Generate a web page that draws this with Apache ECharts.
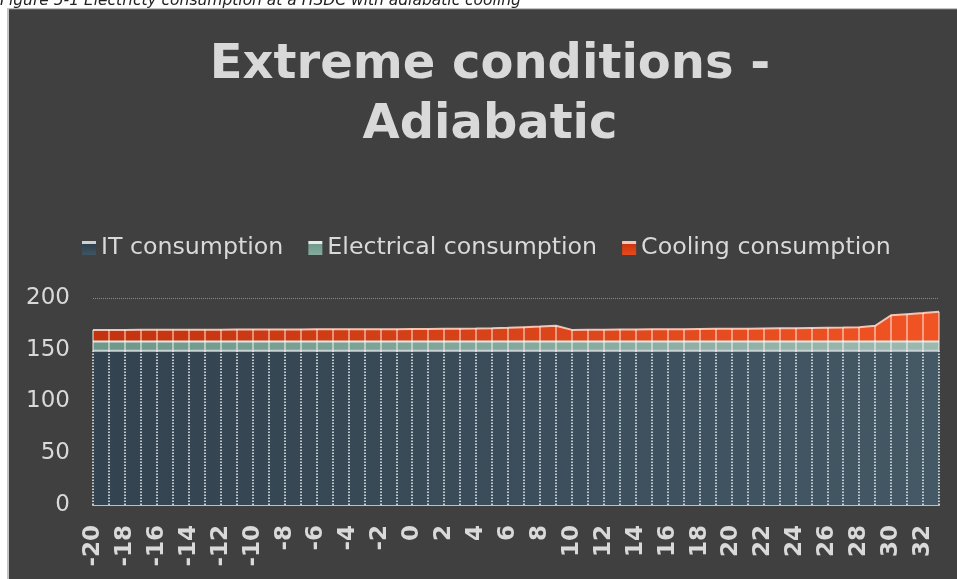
<!DOCTYPE html>
<html><head><meta charset="utf-8">
<script src="https://cdn.jsdelivr.net/npm/echarts@6/dist/echarts.min.js"></script>
<style>html,body{margin:0;padding:0;background:#fff}#c{width:957px;height:579px}</style>
</head><body><div id="c"></div>
<script>
const categories = ['-20','-19','-18','-17','-16','-15','-14','-13','-12','-11','-10','-9','-8','-7','-6','-5','-4','-3','-2','-1',
  '0','1','2','3','4','5','6','7','8','9','10','11','12','13','14','15','16','17','18','19',
  '20','21','22','23','24','25','26','27','28','29','30','31','32','33'];
const itConsumption = [149,149,149,149,149,149,149,149,149,149,149,149,149,149,149,149,149,149,149,149,
  149,149,149,149,149,149,149,149,149,149,149,149,149,149,149,149,149,149,149,149,
  149,149,149,149,149,149,149,149,149,149,149,149,149,149];
const electricalConsumption = [9,9,9,9,9,9,9,9,9,9,9,9,9,9,9,9,9,9,9,9,
  9,9,9,9,9,9,9,9,9,9,9,9,9,9,9,9,9,9,9,9,
  9,9,9,9,9,9,9,9,9,9,9,9,9,9];
const coolingConsumption = [11.2,11.2,11.2,11.3,11.3,11.3,11.4,11.4,11.4,11.5,11.5,11.5,11.6,11.6,11.7,11.7,11.8,11.8,11.9,11.9,
  12.0,12.1,12.2,12.3,12.5,12.8,13.2,13.8,14.4,15.1,
  11.2,11.3,11.4,11.5,11.6,11.7,11.8,11.9,12.1,12.2,12.3,12.4,12.6,12.7,12.8,13.0,13.2,13.4,13.8,15.1,
  25.3,26.4,27.4,28.7];
const seriesNames = ['IT consumption','Electrical consumption','Cooling consumption'];
const yMin = 0, yMax = 200, yInterval = 50;
const titleText = 'Extreme conditions -\nAdiabatic';
const captionText = 'Figure 5-1 Electricty consumption at a HSDC with adiabatic cooling';

const FONT = '"DejaVu Sans", Verdana, sans-serif';
const hGrad = (a, b) => new echarts.graphic.LinearGradient(0, 0, 1, 0, [{offset:0,color:a},{offset:1,color:b}]);
const vIcon = (top, a, b) => new echarts.graphic.LinearGradient(0, 0, 0, 1, [
  {offset:0,color:top},{offset:0.18,color:top},{offset:0.2,color:a},{offset:1,color:b}]);

const baseTop = itConsumption.map((v) => v);
const totals = itConsumption.map((v, i) => v + electricalConsumption[i] + coolingConsumption[i]);

const chart = echarts.init(document.getElementById('c'), null, {renderer:'canvas'});
chart.setOption({
  backgroundColor: '#404040',
  animation: false,
  textStyle: {fontFamily: FONT},
  title: {
    text: titleText, left: 485, top: 31, textAlign: 'center', padding: 5,
    textStyle: {color: '#d9d9d9', fontSize: 48, fontWeight: 'bold', lineHeight: 60, fontFamily: FONT}
  },
  legend: {
    left: 77, top: 231, itemWidth: 14, itemHeight: 14, itemGap: 25, icon: 'rect',
    itemStyle: {borderWidth: 0},
    textStyle: {color: '#d9d9d9', fontSize: 23.7, fontFamily: FONT},
    data: [
      {name: seriesNames[0], itemStyle: {color: vIcon('#c9d1d5', '#2f3f4c', '#3f5462')}},
      {name: seriesNames[1], itemStyle: {color: vIcon('#e3ece8', '#6f9a8b', '#86ab9e')}},
      {name: seriesNames[2], itemStyle: {color: vIcon('#f7c6b6', '#c9360f', '#e9491c')}}
    ]
  },
  grid: {left: 93, right: 18, top: 298, bottom: 74, containLabel: false},
  xAxis: {
    type: 'category', data: categories, boundaryGap: false,
    axisLine: {lineStyle: {color: '#bfbfbf', width: 2}},
    axisTick: {show: false},
    splitLine: {show: false},
    axisLabel: {interval: 1, rotate: 90, color: '#d9d9d9', fontSize: 23, fontWeight: 'bold', margin: 20, fontFamily: FONT}
  },
  yAxis: {
    type: 'value', min: yMin, max: yMax, interval: yInterval,
    axisLine: {show: false}, axisTick: {show: false},
    axisLabel: {color: '#d9d9d9', fontSize: 23, margin: 23, fontFamily: FONT},
    splitLine: {lineStyle: {type: 'dotted', color: '#8a8a8a', width: 1}}
  },
  series: [
    {
      name: seriesNames[0], type: 'line', stack: 'total', data: itConsumption, symbol: 'none',
      itemStyle: {color: '#3a4c5a'},
      lineStyle: {color: '#c9d0d3', width: 2},
      areaStyle: {color: hGrad('#33434f', '#445866'), opacity: 1},
      markLine: {
        silent: true, symbol: ['none', 'none'], label: {show: false}, animation: false,
        lineStyle: {color: 'rgba(225,230,234,0.9)', width: 1.8, type: [1.5, 1.5]},
        emphasis: {disabled: true},
        data: categories.map((c, i) => [{coord: [i, 0]}, {coord: [i, itConsumption[i]]}])
      }
    },
    {
      name: seriesNames[1], type: 'line', stack: 'total', data: electricalConsumption, symbol: 'none',
      itemStyle: {color: '#7fa797'},
      lineStyle: {color: '#dfe8e4', width: 2},
      areaStyle: {color: hGrad('#6e988a', '#9db9af'), opacity: 1}
    },
    {
      name: seriesNames[2], type: 'line', stack: 'total', data: coolingConsumption, symbol: 'none',
      itemStyle: {color: '#dc4318'},
      lineStyle: {color: '#f6c3b3', width: 2},
      areaStyle: {color: hGrad('#c3330e', '#f15424'), opacity: 1},
      markLine: {
        silent: true, symbol: ['none', 'none'], label: {show: false}, animation: false,
        lineStyle: {color: 'rgba(255,255,255,0.6)', width: 1.5, type: 'solid'},
        emphasis: {disabled: true},
        data: categories.map((c, i) => [{coord: [i, baseTop[i]]}, {coord: [i, totals[i]]}])
      }
    }
  ],
  graphic: [
    {type: 'rect', shape: {x: 0, y: 0, width: 957, height: 8}, style: {fill: '#ffffff'}, silent: true},
    {type: 'rect', shape: {x: 0, y: 0, width: 7, height: 579}, style: {fill: '#ffffff'}, silent: true},
    {type: 'rect', shape: {x: 7, y: 8, width: 950, height: 1.2}, style: {fill: '#c4c4c4'}, silent: true},
    {type: 'rect', shape: {x: 7, y: 8, width: 2, height: 571}, style: {fill: '#c4c4c4'}, silent: true},
    {type: 'text', x: 0, y: 8.5, silent: true,
     style: {text: captionText, font: 'italic 15.5px "DejaVu Sans"', fill: '#222222', verticalAlign: 'bottom', align: 'left'}}
  ]
});
</script></body></html>
